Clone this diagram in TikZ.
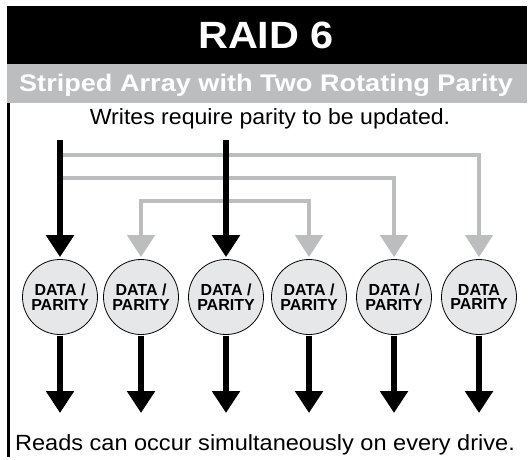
\documentclass[tikz,border=0pt]{standalone}
\usepackage{fontspec}
\setmainfont{Liberation Sans}
\usetikzlibrary{arrows.meta}
\definecolor{bandgray}{RGB}{187,189,191}
\definecolor{drivegray}{RGB}{230,231,232}
\begin{document}
\begin{tikzpicture}[x=1pt,y=-1pt]
	\def \driverow{297}
	\def \readtip{413}
	\tikzstyle{drive}=[circle,draw=black,line width=0.8pt,fill=drivegray,inner sep=0pt,minimum size=75pt,font=\bfseries\fontsize{16}{14.6}\selectfont,align=center]
	\tikzstyle{black-arrow}=[draw=black,line width=6.5pt,-{Triangle[width=27pt,length=22pt]},shorten >=2pt]
	\tikzstyle{gray-arrow}=[draw=bandgray,line width=4.5pt,-{Triangle[width=27pt,length=22pt]},shorten >=2pt]
	\tikzstyle{caption}=[inner sep=0pt,anchor=base,font=\fontsize{22}{22}\selectfont]
	\useasboundingbox (0,0) rectangle (532,459);
	% frame
	\fill[black] (7,6) rectangle (527,64);
	\fill[bandgray] (7,64) rectangle (527,103);
	\draw[line width=3pt] (8.5,103) -- (8.5,457);
	% labels
	\node[caption,text=white,font=\bfseries\fontsize{38}{38}\selectfont] (title) at (266,48) {\scalebox{1.09}[1]{RAID 6}};
	\node[caption,text=white,font=\bfseries\fontsize{24}{24}\selectfont] (subtitle) at (266,91) {\scalebox{1.13}[1]{Striped Array with Two Rotating Parity}};
	\node[caption] (writes) at (270,124) {\scalebox{1.05}[1]{Writes require parity to be updated.}};
	\node[caption] (reads) at (265,450) {\scalebox{1.07}[1]{Reads can occur simultaneously on every drive.}};
	
	% drives
	\node[drive] 	(d1)	at (60,\driverow)	{DATA /\\PARITY};
	\node[drive] 	(d2)	at (141,\driverow)	{DATA /\\PARITY};
	\node[drive] 	(d3)	at (226,\driverow)	{DATA /\\PARITY};
	\node[drive] 	(d4)	at (309,\driverow)	{DATA /\\PARITY};
	\node[drive] 	(d5)	at (394,\driverow)	{DATA /\\PARITY};
	\node[drive] 	(d6)	at (479,\driverow)	{DATA\\PARITY};
	
	% write paths
	\coordinate (w1) at (60,140);
	\coordinate (w3) at (226,140);
	\coordinate (p1) at (60,155);
	\coordinate (p2) at (60,178);
	\coordinate (p3) at (226,201);
	\draw[gray-arrow] (p1) -| (d6);
	\draw[gray-arrow] (p2) -| (d5);
	\draw[gray-arrow] (p3) -| (d2);
	\draw[gray-arrow] (p3) -| (d4);
	\path 
		(w1)	edge[black-arrow]	(d1)
		(w3)	edge[black-arrow]	(d3);
	
	% read paths
	\coordinate (r1) at (60,\readtip);
	\coordinate (r2) at (141,\readtip);
	\coordinate (r3) at (226,\readtip);
	\coordinate (r4) at (309,\readtip);
	\coordinate (r5) at (394,\readtip);
	\coordinate (r6) at (479,\readtip);
	\path 
		(d1)	edge[black-arrow,shorten >=0pt,shorten <=1pt]	(r1)
		(d2)	edge[black-arrow,shorten >=0pt,shorten <=1pt]	(r2)
		(d3)	edge[black-arrow,shorten >=0pt,shorten <=1pt]	(r3)
		(d4)	edge[black-arrow,shorten >=0pt,shorten <=1pt]	(r4)
		(d5)	edge[black-arrow,shorten >=0pt,shorten <=1pt]	(r5)
		(d6)	edge[black-arrow,shorten >=0pt,shorten <=1pt]	(r6);
		
\end{tikzpicture}
\end{document}
